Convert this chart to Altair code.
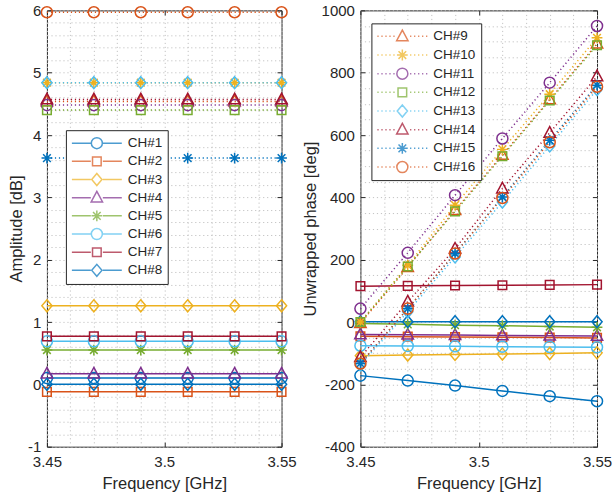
import altair as alt
import pandas as pd

# ---------------- data ----------------
freq = [3.45, 3.47, 3.49, 3.51, 3.53, 3.55]
channels = [f"CH#{i}" for i in range(1, 17)]

amp = {
    "CH#1": [0.10, 0.10, 0.10, 0.10, 0.10, 0.10],
    "CH#2": [-0.12, -0.12, -0.12, -0.12, -0.12, -0.12],
    "CH#3": [1.26, 1.26, 1.26, 1.26, 1.26, 1.26],
    "CH#4": [0.17, 0.17, 0.17, 0.17, 0.17, 0.17],
    "CH#5": [0.55, 0.55, 0.55, 0.55, 0.55, 0.55],
    "CH#6": [0.69, 0.69, 0.69, 0.69, 0.69, 0.69],
    "CH#7": [0.77, 0.77, 0.77, 0.77, 0.77, 0.77],
    "CH#8": [0.00, 0.00, 0.00, 0.00, 0.00, 0.00],
    "CH#9": [4.54, 4.54, 4.54, 4.54, 4.54, 4.54],
    "CH#10": [4.84, 4.84, 4.84, 4.84, 4.84, 4.84],
    "CH#11": [4.48, 4.48, 4.48, 4.48, 4.48, 4.48],
    "CH#12": [4.40, 4.40, 4.40, 4.40, 4.40, 4.40],
    "CH#13": [4.84, 4.84, 4.84, 4.84, 4.84, 4.84],
    "CH#14": [4.57, 4.57, 4.57, 4.57, 4.57, 4.57],
    "CH#15": [3.63, 3.63, 3.63, 3.63, 3.63, 3.63],
    "CH#16": [5.97, 5.97, 5.97, 5.97, 5.97, 5.97],
}

phase = {
    "CH#1": [-172, -188, -204, -221, -238, -254],
    "CH#2": [-46, -47, -48, -49, -50, -51],
    "CH#3": [-108, -106, -104, -103, -101, -99],
    "CH#4": [-40, -41, -42, -43, -44, -45],
    "CH#5": [-5, -7.5, -10, -12, -14.5, -17],
    "CH#6": [-76, -77, -78, -79, -80, -81],
    "CH#7": [115, 116, 117, 118, 119, 120],
    "CH#8": [1, 1, 1, 1, 1, 1],
    "CH#9": [-4, 176, 359, 536, 714, 893],
    "CH#10": [0, 182, 375, 554, 731, 912],
    "CH#11": [43, 222, 407, 589, 768, 950],
    "CH#12": [0, 178, 355, 532, 711, 888],
    "CH#13": [-138, 33, 209, 385, 565, 746],
    "CH#14": [-113, 65, 235, 428, 607, 788],
    "CH#15": [-133, 43, 220, 401, 583, 760],
    "CH#16": [-133, 43, 220, 398, 577, 755],
}

colors = ["#0072BD", "#D95319", "#EDB120", "#7E2F8E", "#77AC30", "#4DBEEE", "#A2142F",
          "#0072BD", "#D95319", "#EDB120", "#7E2F8E", "#77AC30", "#4DBEEE", "#A2142F",
          "#0072BD", "#D95319"]
markers = ["o", "s", "d", "^", "*", "o", "s", "d", "^", "*", "o", "s", "d", "^", "*", "o"]

x_major = [3.45, 3.5, 3.55]
x_grid = [3.45, 3.46, 3.47, 3.48, 3.49, 3.5, 3.51, 3.52, 3.53, 3.54, 3.55]
amp_major = [-1, 0, 1, 2, 3, 4, 5, 6]
amp_grid = [round(-1 + 0.2 * i, 1) for i in range(36)]
ph_major = [-400, -200, 0, 200, 400, 600, 800, 1000]
ph_grid = [-400 + 50 * i for i in range(29)]

rows = []
for c in channels:
    for i, f in enumerate(freq):
        rows.append({"freq": f, "ch": c, "amp": amp[c][i], "phase": phase[c][i],
                     "dotted": channels.index(c) >= 8})
df = pd.DataFrame(rows)

# ---------------- styling ----------------
FONT = "Liberation Sans"
TXT = "#262626"
GRID = "#c4c4c4"


def r4(v):
    return round(v, 4)


def circ(s):
    r = r4(0.92 * s)
    return f"M{r},0A{r},{r} 0 1,1 {-r},0A{r},{r} 0 1,1 {r},0Z"


def sq(s):
    a = r4(0.72 * s)
    return f"M{-a},{-a}H{a}V{a}H{-a}Z"


def dia(s):
    h = r4(1.0 * s)
    w = r4(0.85 * s)
    return f"M0,{-h}L{w},0L0,{h}L{-w},0Z"


def tri(s):
    t = r4(1.05 * s)
    b = r4(0.72 * s)
    w = r4(0.95 * s)
    return f"M0,{-t}L{w},{b}L{-w},{b}Z"


def ast(s):
    a = r4(0.9 * s)
    d = r4(0.64 * s)
    return f"M{-a},0H{a}M0,{-a}V{a}M{-d},{-d}L{d},{d}M{-d},{d}L{d},{-d}"


MK = {"o": circ, "s": sq, "d": dia, "^": tri, "*": ast}
plot_paths = [MK[m](1.0) for m in markers]
MSIZE = 144  # unit = 6 px

LSIZE = 2500  # legend symbol unit = 25 px
LS = 6.0 / 25.0


def legend_path(m, dotted):
    gap = 0.24
    if not dotted:
        line = f"M-1,0H{-gap}M{gap},0H1"
    else:
        segs = []
        x = -1.0
        while x < -gap - 0.03:
            segs.append(f"M{x:.3f},0h0.05")
            segs.append(f"M{-x - 0.05:.3f},0h0.05")
            x += 0.16
        line = "".join(segs)
    return line + MK[m](LS)


xscale = alt.Scale(domain=[3.45, 3.55], nice=False, zero=False)

x_main_axis = alt.Axis(
    values=x_grid, grid=True, gridDash=[1.2, 2.8], gridColor=GRID, gridWidth=1,
    ticks=False, domain=False, labelOverlap=False, labelFlush=False,
    labelExpr="abs(datum.value*20 - round(datum.value*20)) < 0.001 ? '' + datum.value : ''",
    labelFont=FONT, labelFontSize=15, labelColor=TXT, labelPadding=8,
    title="Frequency [GHz]", titleFont=FONT, titleFontSize=16.5, titleFontWeight="normal",
    titleColor=TXT, titlePadding=6,
)


def panel(yfield, ydom, ygrid, ymajor, ylabel_expr, ytitle, leg_idx, lx, ly, width, rowpad):
    yscale = alt.Scale(domain=ydom, nice=False, zero=False)
    y_main_axis = alt.Axis(
        values=ygrid, grid=True, gridDash=[1.2, 2.8], gridColor=GRID, gridWidth=1,
        ticks=False, domain=False, labelOverlap=False, labelExpr=ylabel_expr,
        labelFont=FONT, labelFontSize=15, labelColor=TXT, labelPadding=6,
        title=ytitle, titleFont=FONT, titleFontSize=16.5, titleFontWeight="normal",
        titleColor=TXT, titlePadding=3,
    )
    col = alt.Color("ch:N", scale=alt.Scale(domain=channels, range=colors), legend=None)
    shp = alt.Shape("ch:N", scale=alt.Scale(domain=channels, range=plot_paths), legend=None)

    solid = df[~df["dotted"]]
    dot = df[df["dotted"]]

    l_solid = alt.Chart(solid).mark_line(strokeWidth=1.5).encode(
        x=alt.X("freq:Q", scale=xscale, axis=x_main_axis),
        y=alt.Y(f"{yfield}:Q", scale=yscale, axis=y_main_axis),
        color=col,
    )
    p_solid = alt.Chart(solid).mark_point(filled=False, strokeWidth=1.5, size=MSIZE, opacity=1).encode(
        x=alt.X("freq:Q", scale=xscale, axis=None),
        y=alt.Y(f"{yfield}:Q", scale=yscale, axis=None),
        color=col, shape=shp,
    )
    l_dot = alt.Chart(dot).mark_line(strokeWidth=1.5, strokeDash=[1.2, 2.8]).encode(
        x=alt.X("freq:Q", scale=xscale, axis=None),
        y=alt.Y(f"{yfield}:Q", scale=yscale, axis=None),
        color=col,
    )
    p_dot = alt.Chart(dot).mark_point(filled=False, strokeWidth=1.5, size=MSIZE, opacity=1).encode(
        x=alt.X("freq:Q", scale=xscale, axis=None),
        y=alt.Y(f"{yfield}:Q", scale=yscale, axis=None),
        color=col, shape=shp,
    )

    leg_names = [channels[i] for i in leg_idx]
    leg_cols = [colors[i] for i in leg_idx]
    leg_paths = [legend_path(markers[i], i >= 8) for i in leg_idx]
    legend = alt.Legend(
        title=None, orient="none", legendX=lx, legendY=ly,
        strokeColor=TXT, fillColor="white", padding=5, cornerRadius=0,
        symbolSize=LSIZE, symbolStrokeWidth=1.5, clipHeight=16, rowPadding=rowpad,
        symbolOffset=0, labelOffset=5, labelFont=FONT, labelFontSize=13.5,
        labelColor=TXT, labelLimit=0,
    )
    leg = alt.Chart(df).transform_filter(alt.datum.amp > 1e6).mark_point(
        filled=False, strokeWidth=1.5).encode(
        x=alt.X("freq:Q", scale=xscale, axis=None),
        y=alt.Y(f"{yfield}:Q", scale=yscale, axis=None),
        color=alt.Color("ch:N", scale=alt.Scale(domain=leg_names, range=leg_cols), legend=legend),
        shape=alt.Shape("ch:N", scale=alt.Scale(domain=leg_names, range=leg_paths), legend=legend),
    )

    tick_kw = dict(labels=False, grid=False, domain=False, ticks=True, tickSize=4.5,
                   tickColor=TXT, tickWidth=1, title=None)
    t_bl = alt.Chart(df).mark_point(opacity=0).encode(
        x=alt.X("freq:Q", scale=xscale, axis=alt.Axis(orient="bottom", offset=-4.5, values=x_major, **tick_kw)),
        y=alt.Y(f"{yfield}:Q", scale=yscale, axis=alt.Axis(orient="left", offset=-4.5, values=ymajor, **tick_kw)),
    )
    t_tr = alt.Chart(df).mark_point(opacity=0).encode(
        x=alt.X("freq:Q", scale=xscale, axis=alt.Axis(orient="top", offset=-4.5, values=x_major, **tick_kw)),
        y=alt.Y(f"{yfield}:Q", scale=yscale, axis=alt.Axis(orient="right", offset=-4.5, values=ymajor, **tick_kw)),
    )

    return alt.layer(l_solid, p_solid, l_dot, p_dot, leg, t_bl, t_tr).resolve_scale(
        color="independent", shape="independent"
    ).resolve_axis(x="independent", y="independent").properties(width=width, height=437)


left = panel(
    "amp", [-1, 6], amp_grid, amp_major,
    "abs(datum.value - round(datum.value)) < 0.001 ? '' + round(datum.value) : ''",
    "Amplitude [dB]", list(range(0, 8)), 19, 120, 235, 2.2,
)
right = panel(
    "phase", [-400, 1000], ph_grid, ph_major,
    "abs(datum.value % 200) < 0.001 ? '' + datum.value : ''",
    "Unwrapped phase [deg]", list(range(8, 16)), 11, 13, 237, 2.7,
)

chart = alt.hconcat(left, right, spacing=4).properties(
    padding={"left": 8, "top": 2, "right": 0, "bottom": 0}
).configure(font=FONT).configure_view(stroke=TXT, strokeWidth=1)

chart.save("out.html", embed_options={"renderer": "svg", "actions": False})
